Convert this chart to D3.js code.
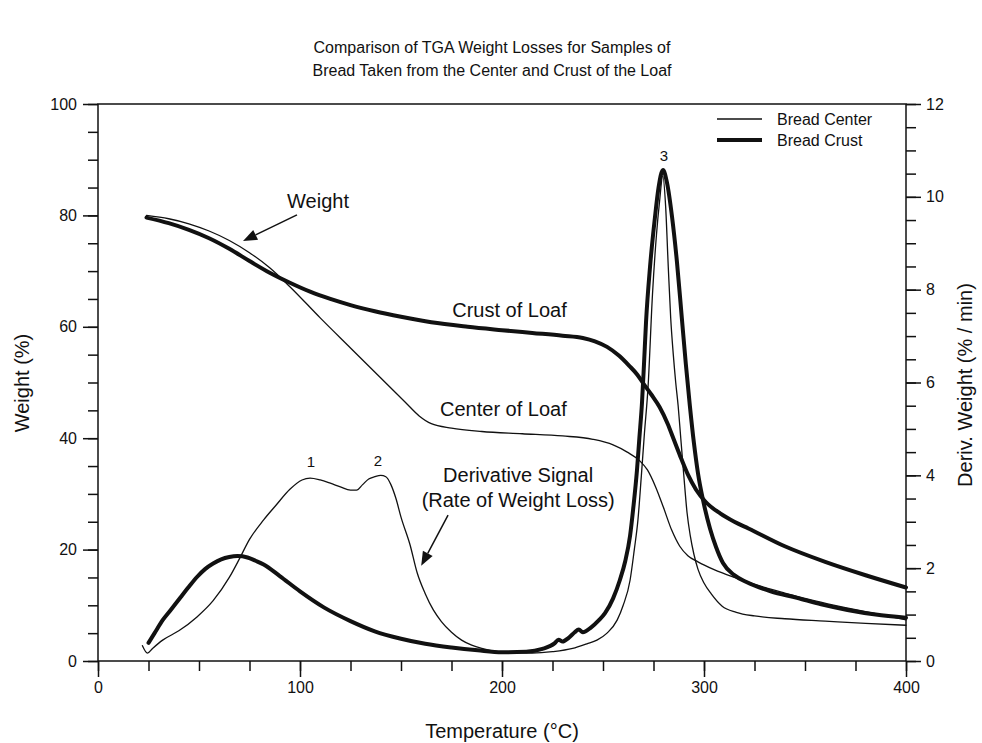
<!DOCTYPE html>
<html><head><meta charset="utf-8">
<script src="https://cdn.jsdelivr.net/npm/d3@7"></script>
<style>
body{margin:0;background:#fff}
text{font-family:"Liberation Sans",Arial,Helvetica,sans-serif;fill:#111}
</style>
</head><body>
<svg id="chart" width="982" height="743"></svg>
<script>
// ---------------- DATA ----------------
const titleLines = ["Comparison of TGA Weight Losses for Samples of", "Bread Taken from the Center and Crust of the Loaf"];
const xLabel = "Temperature (°C)";
const yLeftLabel = "Weight (%)";
const yRightLabel = "Deriv. Weight (% / min)";
const seriesNames = ["Bread Center", "Bread Crust"];

const xTicks = [0, 100, 200, 300, 400];
const yLeftTicks = [0, 20, 40, 60, 80, 100];
const yRightTicks = [0, 2, 4, 6, 8, 10, 12];

// Bread Center – weight (%)
const centerWeightT = [24, 35, 45, 55, 65, 75, 85, 95, 110, 125, 140, 152, 159, 165, 175, 190, 210, 230, 245, 255, 262, 268, 272, 276, 280, 284, 288, 292, 297, 305, 315, 330, 340, 355, 370, 385, 400];
const centerWeight  = [80.0, 79.4, 78.5, 77.2, 75.5, 73.3, 70.6, 67.2, 61.6, 56.2, 50.8, 46.5, 44.0, 42.6, 41.8, 41.2, 40.8, 40.4, 39.8, 38.8, 37.5, 36.0, 34.3, 31.3, 27.5, 23.5, 20.6, 18.9, 17.8, 16.4, 15.0, 13.2, 12.2, 10.8, 9.6, 8.5, 7.4];

// Bread Crust – weight (%)
const crustWeightT = [24, 35, 45, 55, 65, 75, 85, 95, 105, 115, 125, 137, 150, 165, 183, 200, 215, 230, 240, 246, 252, 258, 263, 267, 270, 274, 278, 282, 285, 288, 292, 296, 301, 308, 315, 322, 340, 360, 380, 400];
const crustWeight  = [79.6, 78.6, 77.4, 75.9, 74.0, 71.8, 69.7, 67.9, 66.3, 65.0, 63.9, 62.8, 61.8, 60.8, 60.0, 59.4, 58.9, 58.4, 58.0, 57.4, 56.4, 54.8, 53.0, 51.4, 49.8, 47.8, 45.6, 42.6, 39.8, 37.0, 33.5, 30.8, 28.5, 26.5, 25.0, 23.8, 20.6, 17.8, 15.4, 13.2];

// Bread Center – derivative (%/min)
const centerDerivT = [22, 24.5, 27, 32, 40, 49, 57, 65, 70, 75, 82, 88, 95, 101, 105, 110, 115, 120, 125, 128, 131, 134, 137, 140, 142.5, 145, 147.5, 150, 154.5, 158, 162, 166, 170, 175, 180, 185, 190, 195, 205, 215, 225, 235, 242, 247, 252, 257, 260, 263.4, 265.5, 267.3, 269, 270.5, 272.3, 274.5, 276.5, 278, 279.6, 281, 282.3, 283.5, 284.8, 286, 287.2, 288.5, 290, 291.6, 293.2, 295, 297, 300, 303.5, 309, 316, 325, 340, 360, 380, 400];
const centerDeriv  = [0.33, 0.17, 0.27, 0.45, 0.65, 0.95, 1.3, 1.8, 2.2, 2.62, 3.04, 3.35, 3.7, 3.9, 3.94, 3.9, 3.83, 3.75, 3.68, 3.68, 3.8, 3.92, 3.97, 4.0, 3.97, 3.8, 3.5, 3.1, 2.5, 1.9, 1.45, 1.1, 0.85, 0.62, 0.45, 0.34, 0.27, 0.22, 0.18, 0.17, 0.2, 0.27, 0.37, 0.45, 0.6, 0.88, 1.2, 1.74, 2.4, 3.04, 4.0, 4.9, 5.9, 7.9, 9.2, 9.9, 10.45, 9.8, 8.5, 7.4, 6.6, 6.0, 5.5, 4.8, 4.0, 3.2, 2.7, 2.3, 1.98, 1.68, 1.45, 1.18, 1.05, 0.97, 0.91, 0.86, 0.81, 0.77];

// Bread Crust – derivative (%/min)
const crustDerivT = [25, 28, 32, 36, 41, 45, 49, 53, 57, 61, 65, 69, 74, 78, 82, 90, 100, 112, 125, 137, 150, 162, 175, 188, 200, 212, 220, 226, 228, 230, 233, 236, 238, 240, 244, 248, 251, 255, 258.4, 261, 263.4, 265, 266.8, 268, 269.3, 270.3, 271.3, 273.3, 275.7, 277.5, 279.7, 281.7, 284.2, 286.6, 289, 291, 293, 295, 297, 299.5, 303, 306, 309.4, 315, 321, 333, 346, 358, 371, 385, 400];
const crustDeriv  = [0.39, 0.6, 0.88, 1.1, 1.38, 1.6, 1.81, 1.98, 2.1, 2.19, 2.24, 2.26, 2.23, 2.16, 2.08, 1.83, 1.5, 1.15, 0.86, 0.64, 0.48, 0.37, 0.29, 0.23, 0.19, 0.2, 0.26, 0.38, 0.46, 0.42, 0.5, 0.62, 0.68, 0.62, 0.72, 0.88, 1.03, 1.35, 1.75, 2.15, 2.7, 3.3, 4.1, 4.8, 5.56, 6.4, 7.3, 8.5, 9.55, 10.2, 10.58, 10.3, 9.56, 8.6, 7.4, 6.4, 5.5, 4.7, 4.05, 3.47, 2.85, 2.45, 2.11, 1.85, 1.7, 1.5, 1.36, 1.22, 1.1, 1.0, 0.93];

// ---------------- CHART ----------------
const svg = d3.select("#chart");
const L = 98, R = 906, T = 104, B = 661;
const x = d3.scaleLinear().domain([0, 400]).range([L, R]);
const yW = d3.scaleLinear().domain([0, 100]).range([B, T]);
const yD = d3.scaleLinear().domain([0, 12]).range([B, T]);
const ink = "#111";

// title
svg.append("g").selectAll("text").data(titleLines).join("text")
  .attr("x", 492).attr("y", (d, i) => 53 + i * 23)
  .attr("text-anchor", "middle").attr("font-size", 16).text(d => d);

// frame
svg.append("rect").attr("x", L).attr("y", T).attr("width", R - L).attr("height", B - T)
  .attr("fill", "none").attr("stroke", ink).attr("stroke-width", 1.5);

function styleAxis(g) {
  g.select(".domain").remove();
  g.selectAll("line").attr("stroke", ink).attr("stroke-width", 1.5);
  g.selectAll("text").attr("font-size", 16).attr("fill", ink)
    .attr("font-family", '"Liberation Sans",Arial,sans-serif');
}

// bottom axis
svg.append("g").attr("transform", `translate(0,${B})`)
  .call(d3.axisBottom(x).tickValues(d3.range(0, 401, 25)).tickSize(10).tickFormat(""))
  .call(styleAxis);
svg.append("g").attr("transform", `translate(0,${B})`)
  .call(d3.axisBottom(x).tickValues(xTicks).tickSize(16).tickPadding(5).tickFormat(d3.format("d")))
  .call(styleAxis);

// left axis
svg.append("g").attr("transform", `translate(${L},0)`)
  .call(d3.axisLeft(yW).tickValues(d3.range(0, 101, 5)).tickSize(10).tickFormat(""))
  .call(styleAxis);
svg.append("g").attr("transform", `translate(${L},0)`)
  .call(d3.axisLeft(yW).tickValues(yLeftTicks).tickSize(15).tickPadding(6).tickFormat(d3.format("d")))
  .call(styleAxis);

// right axis
svg.append("g").attr("transform", `translate(${R},0)`)
  .call(d3.axisRight(yD).tickValues(d3.range(0, 12.01, 0.5)).tickSize(10).tickFormat(""))
  .call(styleAxis);
svg.append("g").attr("transform", `translate(${R},0)`)
  .call(d3.axisRight(yD).tickValues(yRightTicks).tickSize(15).tickPadding(5).tickFormat(d3.format("d")))
  .call(styleAxis);

// axis titles
svg.append("text").attr("x", 502).attr("y", 738).attr("text-anchor", "middle")
  .attr("font-size", 20).text(xLabel);
svg.append("text").attr("transform", "translate(29,383) rotate(-90)").attr("text-anchor", "middle")
  .attr("font-size", 20).text(yLeftLabel);
svg.append("text").attr("transform", "translate(972,385) rotate(-90)").attr("text-anchor", "middle")
  .attr("font-size", 20).text(yRightLabel);

// lines
const plot = svg.append("g");
function drawLine(ts, vs, yScale, w) {
  const pts = ts.map((t, i) => [t, vs[i]]);
  plot.append("path").datum(pts)
    .attr("d", d3.line().x(d => x(d[0])).y(d => yScale(d[1])).curve(d3.curveMonotoneX))
    .attr("fill", "none").attr("stroke", ink).attr("stroke-width", w)
    .attr("stroke-linejoin", "round").attr("stroke-linecap", "round");
}
drawLine(centerWeightT, centerWeight, yW, 1.3);
drawLine(centerDerivT, centerDeriv, yD, 1.3);
drawLine(crustWeightT, crustWeight, yW, 4);
drawLine(crustDerivT, crustDeriv, yD, 4);

// annotations
function arrow(x1, y1, x2, y2) {
  const ang = Math.atan2(y2 - y1, x2 - x1), len = 14, half = 5.5;
  const bx = x2 - len * Math.cos(ang), by = y2 - len * Math.sin(ang);
  svg.append("line").attr("x1", x1).attr("y1", y1).attr("x2", bx).attr("y2", by)
    .attr("stroke", ink).attr("stroke-width", 1.5);
  const px = -Math.sin(ang) * half, py = Math.cos(ang) * half;
  svg.append("path").attr("d", `M${x2},${y2}L${bx + px},${by + py}L${bx - px},${by - py}Z`).attr("fill", ink);
}
svg.append("text").attr("x", x(93.6)).attr("y", yW(81.3)).attr("font-size", 20).text("Weight");
arrow(x(98.5), yW(80.1), x(71.8), yW(75.4));
svg.append("text").attr("x", x(203.7)).attr("y", yW(61.8)).attr("text-anchor", "middle").attr("font-size", 20).text("Crust of Loaf");
svg.append("text").attr("x", x(200.7)).attr("y", yW(44)).attr("text-anchor", "middle").attr("font-size", 20).text("Center of Loaf");
svg.append("text").attr("x", x(208)).attr("y", yW(32.1)).attr("text-anchor", "middle").attr("font-size", 20).text("Derivative Signal");
svg.append("text").attr("x", x(208)).attr("y", yW(27.6)).attr("text-anchor", "middle").attr("font-size", 20).text("(Rate of Weight Loss)");
arrow(x(173.3), yW(26.2), x(160), yW(17.1));

svg.append("text").attr("x", x(105.4)).attr("y", yD(4.18)).attr("text-anchor", "middle").attr("font-size", 15).text("1");
svg.append("text").attr("x", x(138.6)).attr("y", yD(4.2)).attr("text-anchor", "middle").attr("font-size", 15).text("2");
svg.append("text").attr("x", x(280.2)).attr("y", yD(10.77)).attr("text-anchor", "middle").attr("font-size", 15).text("3");

// legend
const leg = svg.append("g");
seriesNames.forEach((n, i) => {
  const yy = 119 + i * 21;
  leg.append("line").attr("x1", 717).attr("x2", 762).attr("y1", yy).attr("y2", yy)
    .attr("stroke", ink).attr("stroke-width", i === 0 ? 1.3 : 4);
  leg.append("text").attr("x", 777).attr("y", yy + 5.5).attr("font-size", 16).text(n);
});
</script>
</body></html>
